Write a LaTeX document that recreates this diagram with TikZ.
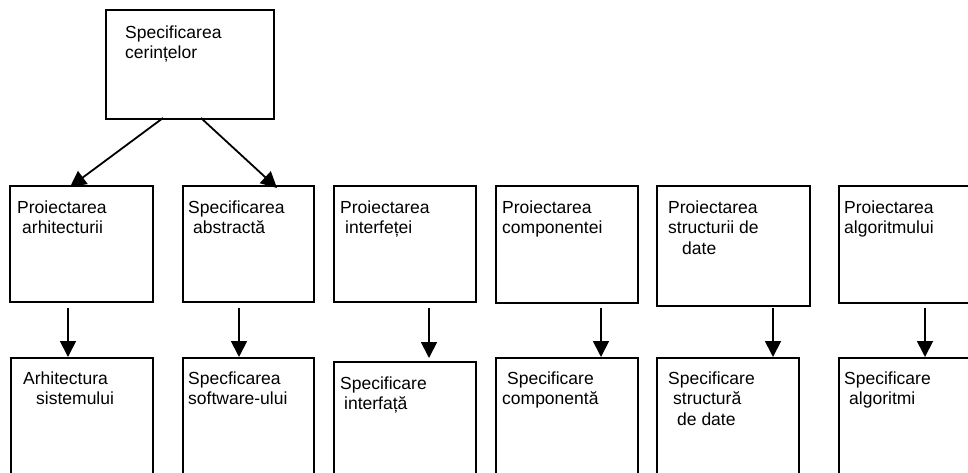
\documentclass[tikz,border=0pt]{standalone}
\usepackage{fontspec}
\setmainfont{Liberation Sans}
\usetikzlibrary{arrows.meta}
\begin{document}
\begin{tikzpicture}[x=1pt,y=-1pt,
  box/.style={draw=black,line width=1.8pt,rectangle,inner sep=0pt,anchor=north west},
  txt/.style={inner sep=0pt,anchor=base west,font=\fontsize{17.5}{20}\selectfont},
  arr/.style={line width=1.8pt,-{Triangle[width=16pt,length=16pt]}}]
\useasboundingbox (0,0) rectangle (968,472);
\clip (0,0) rectangle (968,472);
% top box
\node[box,minimum width=168pt,minimum height=109pt] (top) at (105,9) {};
% row 1
\node[box,minimum width=143pt,minimum height=116pt] (r1) at (9,185) {};
\node[box,minimum width=131pt,minimum height=116pt] (r2) at (182,185) {};
\node[box,minimum width=142pt,minimum height=116pt] (r3) at (333,185) {};
\node[box,minimum width=142pt,minimum height=117pt] (r4) at (495,185) {};
\node[box,minimum width=153pt,minimum height=120pt] (r5) at (656,185) {};
\node[box,minimum width=160pt,minimum height=117pt] (r6) at (838,185) {};
% row 2
\node[box,minimum width=142pt,minimum height=140pt] (b1) at (10,357) {};
\node[box,minimum width=131pt,minimum height=140pt] (b2) at (182,357) {};
\node[box,minimum width=142pt,minimum height=140pt] (b3) at (333,361) {};
\node[box,minimum width=142pt,minimum height=140pt] (b4) at (495,357) {};
\node[box,minimum width=142pt,minimum height=140pt] (b5) at (656,357) {};
\node[box,minimum width=160pt,minimum height=140pt] (b6) at (838,357) {};
% texts
\node[txt] (tt1) at (125,38) {Specificarea};
\node[txt] (tt2) at (125,58) {cerințelor};
\node[txt] (r1a) at (17,213) {Proiectarea};
\node[txt] (r1b) at (22,233) {arhitecturii};
\node[txt] (r2a) at (188,213) {Specificarea};
\node[txt] (r2b) at (193,233) {abstractă};
\node[txt] (r3a) at (340,213) {Proiectarea};
\node[txt] (r3b) at (345,233) {interfeței};
\node[txt] (r4a) at (502,213) {Proiectarea};
\node[txt] (r4b) at (502,233) {componentei};
\node[txt] (r5a) at (668,213) {Proiectarea};
\node[txt] (r5b) at (668,233) {structurii de};
\node[txt] (r5c) at (682,254) {date};
\node[txt] (r6a) at (844,213) {Proiectarea};
\node[txt] (r6b) at (844,233) {algoritmului};
\node[txt] (b1a) at (23,384) {Arhitectura};
\node[txt] (b1b) at (36,404) {sistemului};
\node[txt] (b2a) at (188,384) {Specficarea};
\node[txt] (b2b) at (188,404) {software-ului};
\node[txt] (b3a) at (340,389) {Specificare};
\node[txt] (b3b) at (344,409) {interfață};
\node[txt] (b4a) at (507,384) {Specificare};
\node[txt] (b4b) at (502,404) {componentă};
\node[txt] (b5a) at (668,384) {Specificare};
\node[txt] (b5b) at (673,404) {structură};
\node[txt] (b5c) at (677,425) {de date};
\node[txt] (b6a) at (844,384) {Specificare};
\node[txt] (b6b) at (849,404) {algoritmi};
% connector endpoints
\coordinate (d1s) at (163,118); \coordinate (d1e) at (70,187);
\coordinate (d2s) at (201,118); \coordinate (d2e) at (277,188);
\coordinate (v1s) at (68,308); \coordinate (v1e) at (68,357);
\coordinate (v2s) at (239,308); \coordinate (v2e) at (239,357);
\coordinate (v3s) at (429,308); \coordinate (v3e) at (429,358);
\coordinate (v4s) at (601,308); \coordinate (v4e) at (601,357);
\coordinate (v5s) at (773,308); \coordinate (v5e) at (773,357);
\coordinate (v6s) at (925,308); \coordinate (v6e) at (925,357);
\draw[arr] (d1s) -- (d1e);
\draw[arr] (d2s) -- (d2e);
\draw[arr] (v1s) -- (v1e);
\draw[arr] (v2s) -- (v2e);
\draw[arr] (v3s) -- (v3e);
\draw[arr] (v4s) -- (v4e);
\draw[arr] (v5s) -- (v5e);
\draw[arr] (v6s) -- (v6e);
\end{tikzpicture}
\end{document}
